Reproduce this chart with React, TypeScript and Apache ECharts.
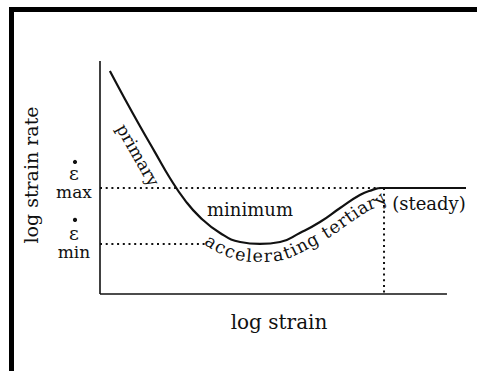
import React, { useEffect, useRef } from "react";
import * as echarts from "echarts";

// Strain-rate curve: log strain (x) against log strain rate (y), arbitrary units
const curveStrain = [2.7, 6.8, 10.9, 15.0, 19.1, 23.2, 27.3, 32.8, 38.3, 43.7, 49.2, 54.6, 60.1, 65.6, 71.0, 74.3, 77.0, 100];
const curveRate = [95.7, 83.7, 72.1, 60.9, 49.8, 40.3, 33.0, 26.2, 22.3, 21.5, 22.3, 26.2, 30.9, 36.9, 42.5, 44.6, 45.5, 45.5];

// Reference levels and guide extents
const rateMax = 45.5;
const rateMin = 21.5;
const steadyOnset = 77.6;
const minGuideEnd = 28.7;
const strainAxisEnd = 94.8;
const tertiaryLabelStart = 31.0;

const INK = "#111";
const SERIF = '"DejaVu Serif", "Liberation Serif", serif';

function textEl(text: string, x: number, y: number, size: number, rotation = 0, lineHeight?: number) {
  return {
    type: "text",
    x,
    y,
    rotation,
    style: {
      text,
      font: `${size}px ${SERIF}`,
      fill: INK,
      align: "center",
      verticalAlign: "middle",
      textAlign: "center",
      textVerticalAlign: "middle",
      ...(lineHeight ? { lineHeight } : {}),
    },
  };
}

export default function App() {
  const ref = useRef<HTMLDivElement>(null);

  useEffect(() => {
    const el = ref.current;
    if (!el) return;
    const chart = echarts.init(el, null, { renderer: "svg" });
    const dotted = { color: INK, width: 2, type: [2, 3.7] as number[], cap: "butt" as const };
    const curve = curveStrain.map((x, i) => [x, curveRate[i]]);

    chart.setOption({
      animation: false,
      backgroundColor: "#fff",
      grid: { left: 100, top: 61, width: 366, height: 233 },
      xAxis: { type: "value", min: 0, max: 100, show: false },
      yAxis: { type: "value", min: 0, max: 100, show: false },
      series: [
        {
          type: "line", data: [[0, 0], [0, 100]], symbol: "none", clip: false, silent: true,
          lineStyle: { color: INK, width: 1.6 },
        },
        {
          type: "line", data: [[0, 0], [strainAxisEnd, 0]], symbol: "none", clip: false, silent: true,
          lineStyle: { color: INK, width: 1.6 },
        },
        {
          type: "line", data: [[0, rateMax], [steadyOnset, rateMax]], symbol: "none", clip: false, silent: true,
          lineStyle: dotted,
        },
        {
          type: "line", data: [[0, rateMin], [minGuideEnd, rateMin]], symbol: "none", clip: false, silent: true,
          lineStyle: dotted,
        },
        {
          type: "line", data: [[steadyOnset, rateMax], [steadyOnset, 0]], symbol: "none", clip: false, silent: true,
          lineStyle: dotted,
        },
        {
          type: "line", data: curve, symbol: "none", smooth: 0.5, clip: false, silent: true,
          lineStyle: { color: INK, width: 2.2 },
        },
      ],
    });

    const px = (x: number, y: number) => chart.convertToPixel({ gridIndex: 0 }, [x, y]) as number[];
    const P = curve.map(([x, y]) => px(x, y));

    // dense Catmull-Rom sampling of the curve in pixel space, for the curved label
    const dense: number[][] = [];
    for (let i = 0; i < P.length - 1; i++) {
      const p0 = P[Math.max(i - 1, 0)], p1 = P[i], p2 = P[i + 1], p3 = P[Math.min(i + 2, P.length - 1)];
      for (let k = 0; k < 20; k++) {
        const t = k / 20, t2 = t * t, t3 = t2 * t;
        const f = (a: number, b: number, c: number, d: number) =>
          0.5 * (2 * b + (-a + c) * t + (2 * a - 5 * b + 4 * c - d) * t2 + (-a + 3 * b - 3 * c + d) * t3);
        dense.push([f(p0[0], p1[0], p2[0], p3[0]), f(p0[1], p1[1], p2[1], p3[1])]);
      }
    }
    dense.push(P[P.length - 1]);

    // baseline path running parallel to the curve, just underneath it
    const offset = 12;
    const path: number[][] = dense.map((p, i) => {
      const a = dense[Math.max(i - 1, 0)], b = dense[Math.min(i + 1, dense.length - 1)];
      const dx = b[0] - a[0], dy = b[1] - a[1];
      const len = Math.hypot(dx, dy) || 1;
      return [p[0] - (dy / len) * offset, p[1] + (dx / len) * offset];
    });
    const cum = [0];
    for (let i = 1; i < path.length; i++) {
      cum.push(cum[i - 1] + Math.hypot(path[i][0] - path[i - 1][0], path[i][1] - path[i - 1][1]));
    }
    const at = (s: number) => {
      let j = 0;
      while (j < cum.length - 2 && cum[j + 1] < s) j++;
      const seg = cum[j + 1] - cum[j] || 1;
      const u = (s - cum[j]) / seg;
      const a = path[j], b = path[j + 1];
      const dx = b[0] - a[0], dy = b[1] - a[1];
      const len = Math.hypot(dx, dy) || 1;
      return { x: a[0] + dx * u, y: a[1] + dy * u, tx: dx / len, ty: dy / len };
    };

    const startX = px(tertiaryLabelStart, 0)[0];
    let sStart = 0;
    for (let i = 0; i < dense.length; i++) {
      if (dense[i][0] >= startX) { sStart = cum[i]; break; }
    }

    const curvedSize = 17.5;
    const tracking = 0.7;
    const canvas = document.createElement("canvas");
    const ctx = canvas.getContext("2d")!;
    ctx.font = `${curvedSize}px ${SERIF}`;
    const label = "accelerating tertiary";
    const curved: any[] = [];
    let s = sStart;
    for (const ch of label) {
      const w = ctx.measureText(ch).width + tracking;
      const p = at(s + w / 2);
      s += w;
      if (ch === " ") continue;
      curved.push(textEl(ch, p.x, p.y, curvedSize, -Math.atan2(p.ty, p.tx)));
    }

    const yMax = px(0, rateMax)[1];
    const yMin = px(0, rateMin)[1];

    chart.setOption({
      graphic: [
        { type: "rect", shape: { x: 9, y: 7, width: 468, height: 5 }, style: { fill: "#000" } },
        { type: "rect", shape: { x: 9, y: 7, width: 5, height: 364 }, style: { fill: "#000" } },
        textEl("log strain rate", 31, 175, 19, Math.PI / 2),
        textEl("log strain", 279, 322, 20),
        { type: "circle", shape: { cx: 75, cy: yMax - 26, r: 2.1 }, style: { fill: INK } },
        textEl("ε", 74, yMax - 15, 19, 0, 13),
        textEl("max", 74, yMax + 4, 17, 0, 13),
        { type: "circle", shape: { cx: 75, cy: yMin - 24, r: 2.1 }, style: { fill: INK } },
        textEl("ε", 74, yMin - 11, 19, 0, 13),
        textEl("min", 74, yMin + 8, 17, 0, 13),
        textEl("primary", 138, 155, 17, -1.05),
        textEl("minimum", 250, 209, 18),
        textEl("(steady)", 429, 203, 18),
        ...curved,
      ],
    });

    return () => chart.dispose();
  }, []);

  return (
    <div
      ref={ref}
      style={{ position: "fixed", left: 0, top: 0, width: 477, height: 371, background: "#fff" }}
    />
  );
}
